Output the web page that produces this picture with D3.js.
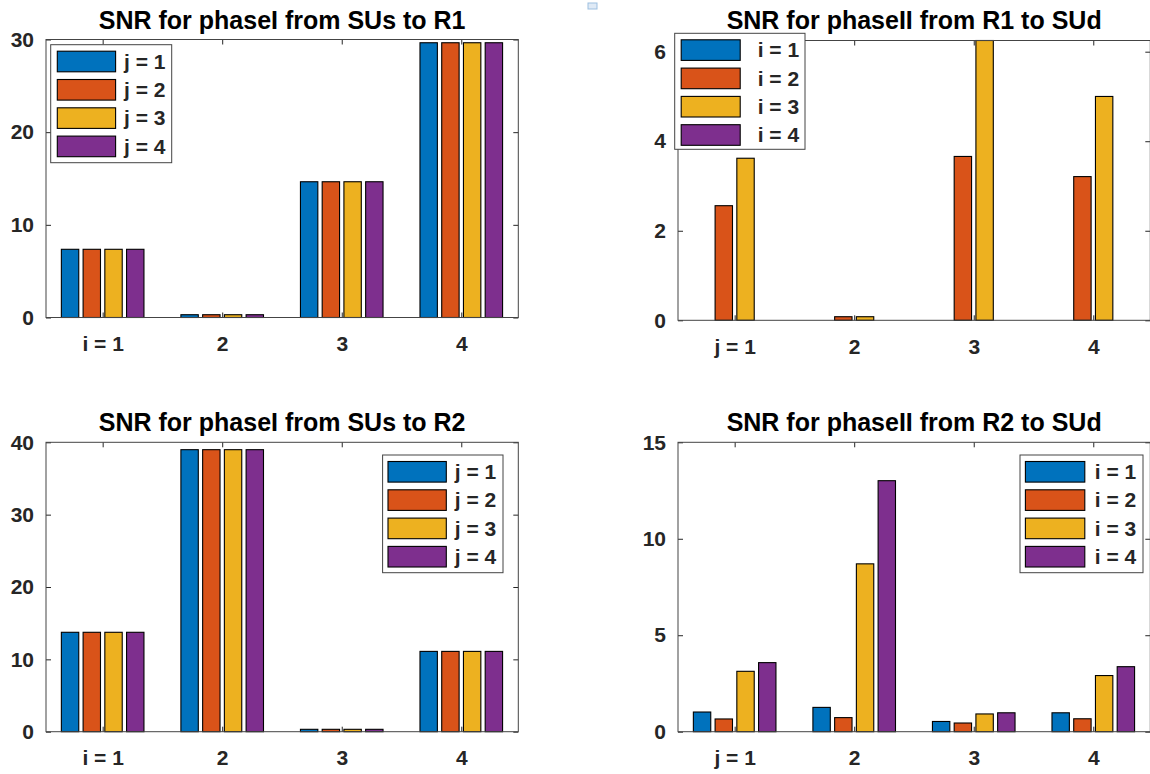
<!DOCTYPE html>
<html>
<head>
<meta charset="utf-8">
<script src="https://cdn.jsdelivr.net/npm/d3@7"></script>
<style>
  html, body { margin: 0; padding: 0; background: #fff; }
  svg { display: block; }
  text { font-family: "Liberation Sans", Arial, Helvetica, sans-serif; font-weight: bold; }
</style>
</head>
<body>
<svg id="chart" width="1150" height="774"></svg>
<script>
// ---------------- DATA ----------------
const groups = [1, 2, 3, 4];
const xLabelsI = ["i = 1", "2", "3", "4"];
const xLabelsJ = ["j = 1", "2", "3", "4"];
const seriesNamesJ = ["j = 1", "j = 2", "j = 3", "j = 4"];
const seriesNamesI = ["i = 1", "i = 2", "i = 3", "i = 4"];
const colors = ["#0072BD", "#D95319", "#EDB120", "#7E2F8E"];

// Panel 1: SNR for phaseI from SUs to R1 (groups i, series j)
const r1_j1 = [7.36, 0.30, 14.65, 29.65];
const r1_j2 = [7.36, 0.30, 14.65, 29.65];
const r1_j3 = [7.36, 0.30, 14.65, 29.65];
const r1_j4 = [7.36, 0.30, 14.65, 29.65];
const r1_yTicks = [0, 10, 20, 30];

// Panel 2: SNR for phaseII from R1 to SUd (groups j, series i)
const d1_i1 = [0, 0, 0, 0];
const d1_i2 = [2.56, 0.08, 3.66, 3.21];
const d1_i3 = [3.62, 0.08, 6.25, 5.00];
const d1_i4 = [0, 0, 0, 0];
const d1_yTicks = [0, 2, 4, 6];

// Panel 3: SNR for phaseI from SUs to R2 (groups i, series j)
const r2_j1 = [13.74, 38.98, 0.33, 11.10];
const r2_j2 = [13.74, 38.98, 0.33, 11.10];
const r2_j3 = [13.74, 38.98, 0.33, 11.10];
const r2_j4 = [13.74, 38.98, 0.33, 11.10];
const r2_yTicks = [0, 10, 20, 30, 40];

// Panel 4: SNR for phaseII from R2 to SUd (groups j, series i)
const d2_i1 = [1.02, 1.26, 0.53, 0.98];
const d2_i2 = [0.66, 0.73, 0.45, 0.67];
const d2_i3 = [3.13, 8.70, 0.92, 2.91];
const d2_i4 = [3.58, 13.01, 0.98, 3.37];
const d2_yTicks = [0, 5, 10, 15];

// ---------------- LAYOUT ----------------
const svg = d3.select("#chart");
svg.append("rect").attr("width", 1150).attr("height", 774).attr("fill", "#fff");

// small artifact icon at top centre
svg.append("rect").attr("x", 588).attr("y", 3).attr("width", 9).attr("height", 6)
  .attr("fill", "#dfeaf6").attr("stroke", "#9dbfe0").attr("stroke-width", 1);

const axisColor = "#262626";
const tickFont = 21;
const titleFont = 25;
const panels = [
  { title: "SNR for phaseI from SUs to R1", series: [r1_j1, r1_j2, r1_j3, r1_j4], names: seriesNamesJ,
    xLabels: xLabelsI, yMax: 30, yTicks: r1_yTicks,
    box: { l: 46, r: 518.3, t: 39.5, b: 317.5 }, titleY: 28.5,
    legend: { x: 50.7, y: 44.7, w: 121, h: 118, sx: 6.6, sw: 58.3, tx: 73.3 } },
  { title: "SNR for phaseII from R1 to SUd", series: [d1_i1, d1_i2, d1_i3, d1_i4], names: seriesNamesI,
    xLabels: xLabelsJ, yMax: 6.25, yTicks: d1_yTicks,
    box: { l: 678, r: 1150.3, t: 40.5, b: 320.3 }, titleY: 29,
    legend: { x: 674.7, y: 33.3, w: 130.3, h: 116, sx: 6.5, sw: 59, tx: 83 } },
  { title: "SNR for phaseI from SUs to R2", series: [r2_j1, r2_j2, r2_j3, r2_j4], names: seriesNamesJ,
    xLabels: xLabelsI, yMax: 40, yTicks: r2_yTicks,
    box: { l: 46, r: 518.3, t: 442.3, b: 731.7 }, titleY: 431,
    legend: { x: 382.6, y: 455, w: 120.4, h: 117.7, sx: 5.4, sw: 58.3, tx: 72.2 } },
  { title: "SNR for phaseII from R2 to SUd", series: [d2_i1, d2_i2, d2_i3, d2_i4], names: seriesNamesI,
    xLabels: xLabelsJ, yMax: 15, yTicks: d2_yTicks,
    box: { l: 678, r: 1150.3, t: 442.3, b: 731.7 }, titleY: 431,
    legend: { x: 1020, y: 455, w: 123, h: 117.7, sx: 5.4, sw: 59.4, tx: 74.8 } }
];

const groupWidth = 4 / 5.5;      // MATLAB grouped bar group width
const slot = groupWidth / 4;     // per-series slot (in data units)
const barFrac = 0.8;             // bar face fraction of slot

panels.forEach(p => {
  const g = svg.append("g");
  const x = d3.scaleLinear().domain([0.526, 4.477]).range([p.box.l, p.box.r]);
  const y = d3.scaleLinear().domain([0, p.yMax]).range([p.box.b, p.box.t]);

  // bars
  p.series.forEach((vals, k) => {
    g.append("g").selectAll("rect").data(vals).join("rect")
      .attr("x", (d, i) => x(groups[i] + (k - 1.5) * slot - slot * barFrac / 2))
      .attr("width", (d, i) => x(groups[i] + slot * barFrac / 2) - x(groups[i] - slot * barFrac / 2))
      .attr("y", d => y(Math.min(d, p.yMax)))
      .attr("height", d => y(0) - y(Math.min(d, p.yMax)))
      .attr("fill", colors[k])
      .attr("stroke", "#000")
      .attr("stroke-width", 1.1);
  });

  // axes
  const yAxis = g.append("g").attr("transform", `translate(${p.box.l},0)`)
    .call(d3.axisLeft(y).tickValues(p.yTicks).tickSize(-5).tickPadding(12).tickFormat(d3.format("d")));
  const yAxisR = g.append("g").attr("transform", `translate(${p.box.r},0)`)
    .call(d3.axisRight(y).tickValues(p.yTicks).tickSize(-5).tickFormat(""));
  const xAxis = g.append("g").attr("transform", `translate(0,${p.box.b})`)
    .call(d3.axisBottom(x).tickValues(groups).tickSize(-5).tickPadding(18.3)
      .tickFormat((d, i) => p.xLabels[i]));
  const xAxisT = g.append("g").attr("transform", `translate(0,${p.box.t})`)
    .call(d3.axisTop(x).tickValues(groups).tickSize(-5).tickFormat(""));

  [yAxis, yAxisR, xAxis, xAxisT].forEach(a => {
    a.select(".domain").remove();
    a.selectAll(".tick line").attr("stroke", axisColor).attr("stroke-width", 1);
    a.selectAll(".tick text").attr("fill", axisColor).attr("font-size", tickFont)
      .attr("font-family", "Liberation Sans, Arial, sans-serif").attr("font-weight", "bold");
  });

  // axes box
  g.append("rect")
    .attr("x", p.box.l).attr("y", p.box.t)
    .attr("width", p.box.r - p.box.l).attr("height", p.box.b - p.box.t)
    .attr("fill", "none").attr("stroke", "#444").attr("stroke-width", 1);

  // title
  g.append("text")
    .attr("x", (p.box.l + p.box.r) / 2).attr("y", p.titleY)
    .attr("text-anchor", "middle").attr("font-size", titleFont).attr("fill", "#000")
    .text(p.title);

  // legend
  const L = p.legend;
  const lg = g.append("g");
  lg.append("rect").attr("x", L.x).attr("y", L.y).attr("width", L.w).attr("height", L.h)
    .attr("fill", "#fff").attr("stroke", "#444").attr("stroke-width", 1);
  const rowStep = 28.3, swH = 20.6, firstTop = 6.5;
  const rows = lg.selectAll("g.row").data(p.names).join("g").attr("class", "row");
  rows.append("rect")
    .attr("x", L.x + L.sx).attr("y", (d, i) => L.y + firstTop + i * rowStep)
    .attr("width", L.sw).attr("height", swH)
    .attr("fill", (d, i) => colors[i]).attr("stroke", "#000").attr("stroke-width", 1.1);
  rows.append("text")
    .attr("x", L.x + L.tx).attr("y", (d, i) => L.y + firstTop + i * rowStep + swH / 2 + 7.3)
    .attr("font-size", tickFont).attr("fill", axisColor)
    .text(d => d);
});
</script>
</body>
</html>
